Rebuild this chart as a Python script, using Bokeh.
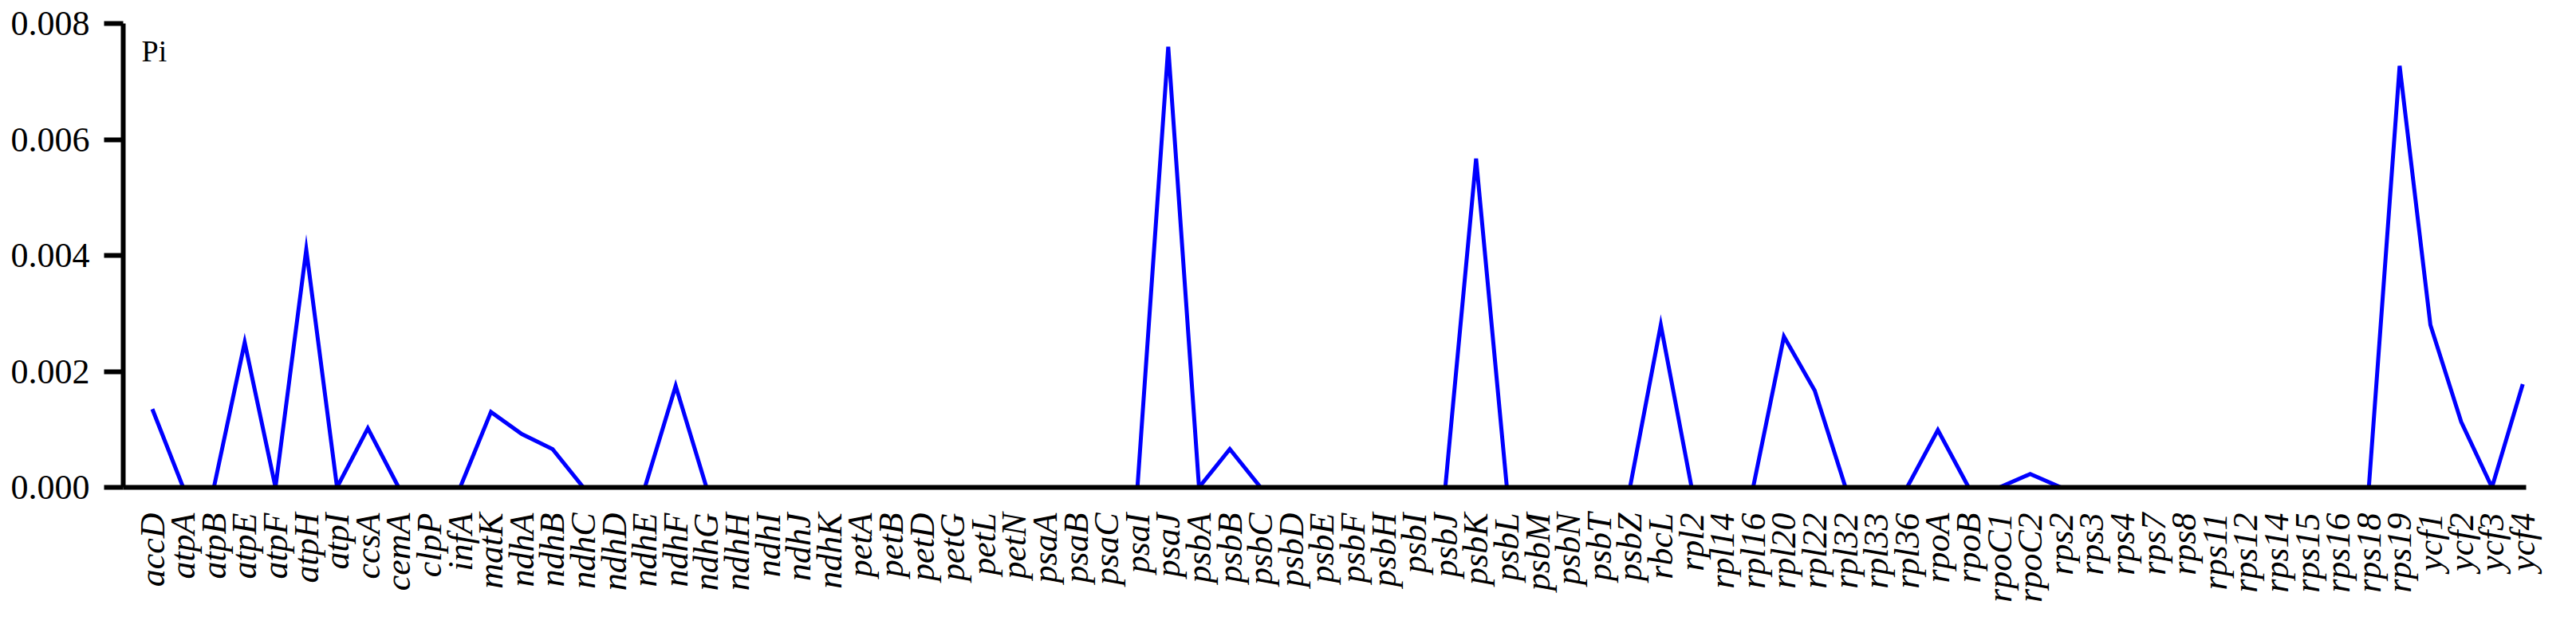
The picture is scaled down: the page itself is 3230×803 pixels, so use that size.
from bokeh.plotting import figure
from bokeh.models import Range1d, FixedTicker, Label, ColumnDataSource
from bokeh.embed import file_html
from bokeh.resources import INLINE
import math

genes = ["accD", "atpA", "atpB", "atpE", "atpF", "atpH", "atpI", "ccsA", "cemA", "clpP",
         "infA", "matK", "ndhA", "ndhB", "ndhC", "ndhD", "ndhE", "ndhF", "ndhG", "ndhH",
         "ndhI", "ndhJ", "ndhK", "petA", "petB", "petD", "petG", "petL", "petN", "psaA",
         "psaB", "psaC", "psaI", "psaJ", "psbA", "psbB", "psbC", "psbD", "psbE", "psbF",
         "psbH", "psbI", "psbJ", "psbK", "psbL", "psbM", "psbN", "psbT", "psbZ", "rbcL",
         "rpl2", "rpl14", "rpl16", "rpl20", "rpl22", "rpl32", "rpl33", "rpl36", "rpoA", "rpoB",
         "rpoC1", "rpoC2", "rps2", "rps3", "rps4", "rps7", "rps8", "rps11", "rps12", "rps14",
         "rps15", "rps16", "rps18", "rps19", "ycf1", "ycf2", "ycf3", "ycf4"]

pi_values = [0.00135, 0.0, 0.0, 0.0025, 0.0, 0.0041, 0.0, 0.00102, 0.0, 0.0,
             0.0, 0.0013, 0.00092, 0.00066, 0.0, 0.0, 0.0, 0.00175, 0.0, 0.0,
             0.0, 0.0, 0.0, 0.0, 0.0, 0.0, 0.0, 0.0, 0.0, 0.0,
             0.0, 0.0, 0.0, 0.0076, 0.0, 0.00066, 0.0, 0.0, 0.0, 0.0,
             0.0, 0.0, 0.0, 0.00567, 0.0, 0.0, 0.0, 0.0, 0.0, 0.0028,
             0.0, 0.0, 0.0, 0.0026, 0.00167, 0.0, 0.0, 0.0, 0.00099, 0.0,
             0.0, 0.00023, 0.0, 0.0, 0.0, 0.0, 0.0, 0.0, 0.0, 0.0,
             0.0, 0.0, 0.0, 0.00727, 0.0028, 0.00113, 0.0, 0.00178]

y_ticks = [0.0, 0.002, 0.004, 0.006, 0.008]
y_tick_labels = ["0.000", "0.002", "0.004", "0.006", "0.008"]

idx = list(range(len(genes)))
src = ColumnDataSource(dict(x=idx, y=pi_values))

p = figure(width=3214, height=787, output_backend="svg", toolbar_location=None,
           x_range=Range1d(-0.946, 77.11), y_range=Range1d(0, 0.008),
           min_border_left=154, min_border_right=47, min_border_top=29, min_border_bottom=176)

p.line("x", "y", source=src, line_color="#0000FF", line_width=5, line_join="miter")

p.xgrid.visible = False
p.ygrid.visible = False
p.outline_line_color = None
p.background_fill_color = "white"
p.border_fill_color = "white"

serif = "Liberation Serif"

# x axis
xa = p.xaxis[0]
xa.ticker = FixedTicker(ticks=idx)
xa.major_label_overrides = {i: g for i, g in zip(idx, genes)}
xa.major_label_orientation = math.pi / 2
xa.major_label_text_font = serif
xa.major_label_text_font_style = "italic"
xa.major_label_text_font_size = "44px"
xa.major_label_text_color = "black"
xa.major_tick_line_color = None
xa.major_tick_out = 0
xa.major_tick_in = 0
xa.minor_tick_line_color = None
xa.major_label_standoff = 32
xa.axis_line_width = 6
xa.axis_line_color = "black"

# y axis
ya = p.yaxis[0]
ya.ticker = FixedTicker(ticks=y_ticks)
ya.major_label_overrides = {t: l for t, l in zip(y_ticks, y_tick_labels)}
ya.major_label_text_font = serif
ya.major_label_text_font_size = "44px"
ya.major_label_text_color = "black"
ya.major_tick_out = 24
ya.major_tick_in = 0
ya.major_tick_line_width = 6
ya.major_tick_line_color = "black"
ya.minor_tick_line_color = None
ya.major_label_standoff = 18
ya.axis_line_width = 6
ya.axis_line_color = "black"

p.add_layout(Label(x=-0.35, y=0.00752, text="Pi", text_font=serif,
                   text_font_size="38px", text_color="black", text_baseline="alphabetic"))

open("out.html", "w").write(file_html(p, INLINE))
